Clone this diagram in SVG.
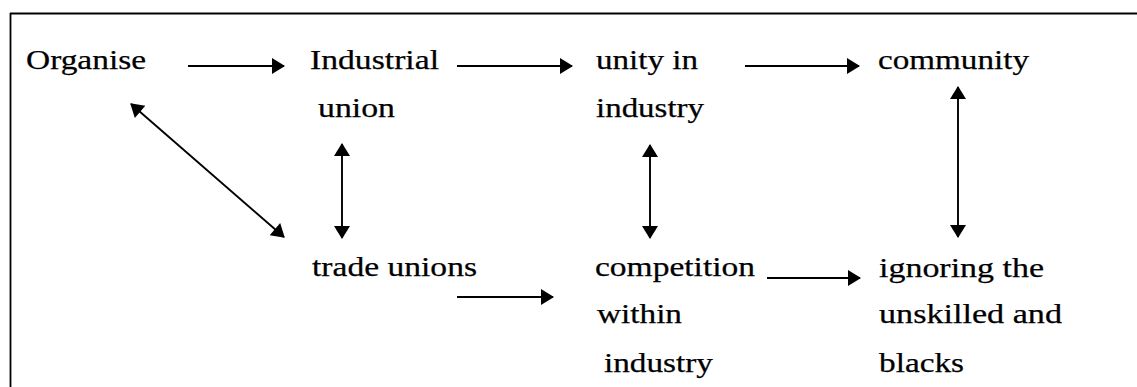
<svg xmlns="http://www.w3.org/2000/svg" width="1137" height="387" viewBox="0 0 1137 387">
<style>
text{font-size:28px;fill:#000;stroke:#000;stroke-width:0.25}
.c{stroke:#000;stroke-width:1.9;fill:none}
</style>
<defs>
<marker id="ah" markerUnits="userSpaceOnUse" markerWidth="16" markerHeight="20" viewBox="-13 -10 15 20" refX="0" refY="0" orient="auto-start-reverse">
<path d="M1,0 L-12,-8 L-12,8 Z" fill="#000"/>
</marker>
</defs>
<rect width="1137" height="387" fill="#fff"/>
<g id="frame">
<line x1="10" y1="13.5" x2="1137" y2="13.5" stroke="#000" stroke-width="2"/>
<line x1="10.5" y1="13" x2="10.5" y2="387" stroke="#000" stroke-width="1.8"/>
</g>
<g font-family="Liberation Serif, Times New Roman, serif">
<g id="organise"><text x="26" y="69" textLength="120" lengthAdjust="spacingAndGlyphs">Organise</text></g>
<g id="industrial-union">
<text x="310" y="69" textLength="129" lengthAdjust="spacingAndGlyphs">Industrial</text>
<text x="318" y="117" textLength="77" lengthAdjust="spacingAndGlyphs">union</text>
</g>
<g id="unity-in-industry">
<text x="596" y="69" textLength="102" lengthAdjust="spacingAndGlyphs">unity in</text>
<text x="596" y="117" textLength="108" lengthAdjust="spacingAndGlyphs">industry</text>
</g>
<g id="community"><text x="878" y="69" textLength="151" lengthAdjust="spacingAndGlyphs">community</text></g>
<g id="trade-unions"><text x="312" y="276" textLength="165" lengthAdjust="spacingAndGlyphs">trade unions</text></g>
<g id="competition">
<text x="595" y="276" textLength="160" lengthAdjust="spacingAndGlyphs">competition</text>
<text x="597" y="323" textLength="85" lengthAdjust="spacingAndGlyphs">within</text>
<text x="604" y="372" textLength="109" lengthAdjust="spacingAndGlyphs">industry</text>
</g>
<g id="ignoring">
<text x="879" y="277" textLength="165" lengthAdjust="spacingAndGlyphs">ignoring the</text>
<text x="879" y="323" textLength="183" lengthAdjust="spacingAndGlyphs">unskilled and</text>
<text x="879" y="372" textLength="85" lengthAdjust="spacingAndGlyphs">blacks</text>
</g>
</g>
<g id="connectors" class="c">
<line class="c" x1="188" y1="66" x2="284" y2="66" marker-end="url(#ah)"/>
<line class="c" x1="457" y1="66" x2="572" y2="66" marker-end="url(#ah)"/>
<line class="c" x1="745" y1="66" x2="859" y2="66" marker-end="url(#ah)"/>
<line class="c" x1="457" y1="297" x2="553" y2="297" marker-end="url(#ah)"/>
<line class="c" x1="767" y1="278" x2="860" y2="278" marker-end="url(#ah)"/>
<line class="c" x1="131" y1="104" x2="284" y2="237" marker-start="url(#ah)" marker-end="url(#ah)"/>
<line class="c" x1="342" y1="144" x2="342" y2="238" marker-start="url(#ah)" marker-end="url(#ah)"/>
<line class="c" x1="650" y1="145" x2="650" y2="238" marker-start="url(#ah)" marker-end="url(#ah)"/>
<line class="c" x1="958" y1="87" x2="958" y2="237" marker-start="url(#ah)" marker-end="url(#ah)"/>
</g>
</svg>
